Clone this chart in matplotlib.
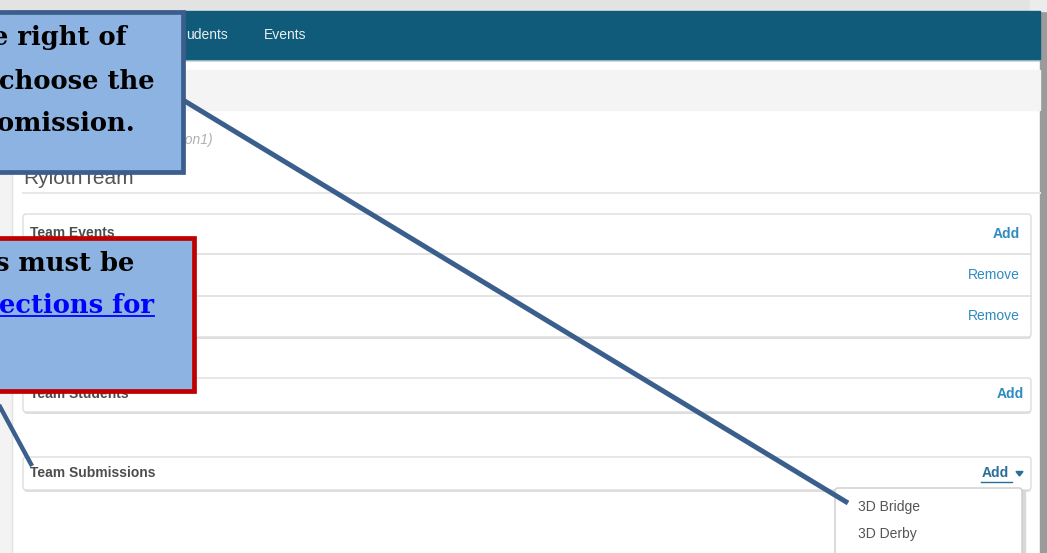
import matplotlib.pyplot as plt
from matplotlib.patches import Rectangle, FancyBboxPatch, Polygon

# screen texts
nav_items = ["udents", "Events"]
team_name = "RylothTeam"
team_sub = "(Session1)"
panel_titles = ["Team Events", "Team Students", "Team Submissions"]
event_actions = ["Add", "Remove", "Remove"]
dropdown_items = ["3D Bridge", "3D Derby"]
callout_top = ["e right of", "choose the", "omission."]
callout_bottom = ["s must be", "ections for"]

W, H = 1047, 553
fig = plt.figure(figsize=(W / 100, H / 100), dpi=100)
ax = fig.add_axes([0, 0, 1, 1])
ax.set_xlim(0, W)
ax.set_ylim(H, 0)
ax.axis("off")

sans = "Liberation Sans"
link = "#2f8bc0"
title_col = "#4d4d4d"

# page background
ax.add_patch(Rectangle((0, 0), W, H, color="white", zorder=0))
ax.add_patch(Rectangle((0, 0), W, 11, color="#e3e3e3", zorder=1))
ax.add_patch(Rectangle((0, 11), 12, H, color="#f3f3f3", zorder=1))
ax.plot([12, 12], [60, H], color="#e2e2e2", lw=1, zorder=1)
ax.add_patch(Rectangle((1040, 0), 7, H, color="#9b9b9b", zorder=1))
ax.add_patch(Rectangle((1030, 0), 17, 11, color="#ececec", zorder=1))

# navbar
ax.add_patch(Rectangle((0, 11), 1040, 49, color="#105a7a", zorder=2))
ax.plot([0, 1040], [60, 60], color="#8fb0c0", lw=0.8, zorder=2)
ax.text(228, 35, nav_items[0], ha="right", va="center", color="#e8eef2", fontsize=10, family=sans, zorder=3)
ax.text(264, 35, nav_items[1], ha="left", va="center", color="#e8eef2", fontsize=10, family=sans, zorder=3)

# breadcrumb strip
ax.add_patch(Rectangle((12, 70), 1028, 40, color="#f4f4f4", zorder=2))

# team header
ax.text(213, 140, team_sub, ha="right", va="center", color="#b0b0b0", fontsize=10,
        style="italic", family=sans, zorder=3)
ax.text(23, 178, team_name, ha="left", va="center", color="#555555", fontsize=15, family=sans, zorder=3)
ax.plot([23, 1040], [193, 193], color="#e8e8e8", lw=1.5, zorder=3)


def panel(y0, y1):
    ax.add_patch(FancyBboxPatch((24, y0 + 2), 1007, y1 - y0, boxstyle="round,pad=0,rounding_size=3",
                                fc="#dedede", ec="none", zorder=2))
    ax.add_patch(FancyBboxPatch((23, y0), 1008, y1 - y0, boxstyle="round,pad=0,rounding_size=3",
                                fc="white", ec="#dddddd", lw=1, zorder=3))


# team events panel
panel(214, 337)
for yy in (254, 296):
    ax.plot([23, 1031], [yy, yy], color="#e0e0e0", lw=1.3, zorder=4)
ax.text(30, 233, panel_titles[0], ha="left", va="center", color=title_col, fontsize=10,
        weight="bold", family=sans, zorder=4)
for yy, act in zip([234, 275, 316], event_actions):
    ax.text(1020, yy, act, ha="right", va="center", color=link, fontsize=10,
            weight="bold" if act == "Add" else "normal", family=sans, zorder=4)

# team students panel
panel(378, 412)
ax.text(30, 394, panel_titles[1], ha="left", va="center", color=title_col, fontsize=10,
        weight="bold", family=sans, zorder=4)
ax.text(1024, 394, "Add", ha="right", va="center", color=link, fontsize=10, weight="bold", family=sans, zorder=4)

# team submissions panel
panel(457, 490)
ax.text(30, 473, panel_titles[2], ha="left", va="center", color=title_col, fontsize=10,
        weight="bold", family=sans, zorder=4)
ax.text(982, 473, "Add", ha="left", va="center", color="#2a6f99", fontsize=10, weight="bold", family=sans, zorder=4)
ax.plot([981, 1012], [481.5, 481.5], color="#2a6f99", lw=1, zorder=4)
ax.add_patch(Polygon([[1016, 471.5], [1023, 471.5], [1019.5, 476]], closed=True, color="#2a6f99", zorder=4))

# dropdown
ax.add_patch(Rectangle((837, 490), 188, 70, color="#d8d8d8", zorder=5))
ax.add_patch(FancyBboxPatch((835, 488), 187, 72, boxstyle="round,pad=0,rounding_size=3",
                            fc="white", ec="#cccccc", lw=1, zorder=6))
for yy, item in zip([507, 534], dropdown_items):
    ax.text(858, yy, item, ha="left", va="center", color="#555555", fontsize=10, family=sans, zorder=7)

# connector lines
line_col = "#3a5f8c"
ax.plot([183, 848], [100, 503], color=line_col, lw=3.6, solid_capstyle="butt", zorder=8)
ax.plot([-8, 32], [392, 466], color=line_col, lw=3.2, solid_capstyle="butt", zorder=8)

# callouts
serif = "DejaVu Serif"
ax.add_patch(Rectangle((-10, 12), 193, 160, fc="#8db3e2", ec="#3b5e8c", lw=3.4, zorder=9))
for yy, xx, line in zip([45, 89, 131], [-8, -1, -3], callout_top):
    ax.text(xx, yy, line, ha="left", va="baseline", fontsize=18.5, weight="bold", family=serif,
            color="black", zorder=10)

ax.add_patch(Rectangle((-10, 238), 204, 153, fc="#8db3e2", ec="#c00000", lw=3.4, zorder=9))
ax.text(-5, 271, callout_bottom[0], ha="left", va="baseline", fontsize=18.5, weight="bold",
        family=serif, color="black", zorder=10)
t = ax.text(-1, 313, callout_bottom[1], ha="left", va="baseline", fontsize=18.5, weight="bold",
            family=serif, color="#0000ff", zorder=10)
fig.canvas.draw()
bb = t.get_window_extent(fig.canvas.get_renderer())
x1 = ax.transData.inverted().transform((bb.x1, bb.y0))[0]
ax.plot([-1, x1], [316, 316], color="#0000ff", lw=1.3, zorder=10)

fig.savefig("out.png", dpi=100)
